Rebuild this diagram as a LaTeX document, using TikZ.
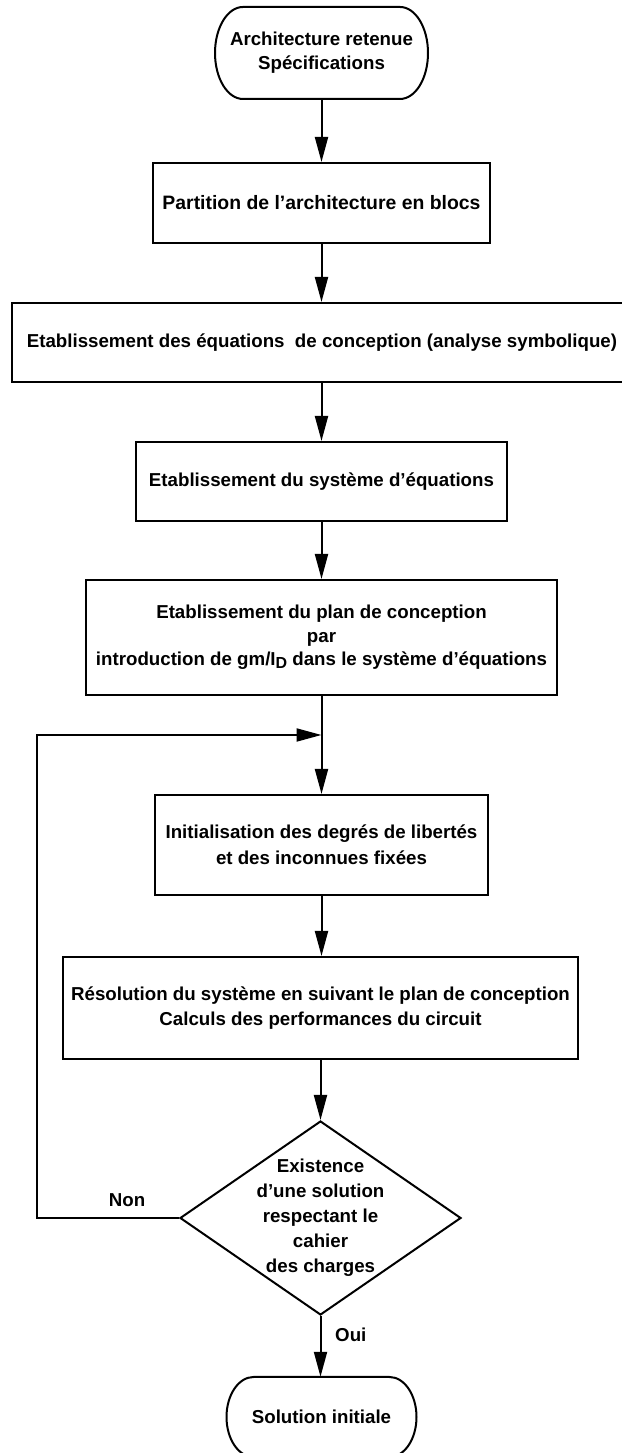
\documentclass[tikz,border=0pt]{standalone}
\usepackage{fontspec}
\setmainfont{Liberation Sans}
\usetikzlibrary{arrows.meta,shapes.geometric}
\begin{document}
\begin{tikzpicture}[x=1pt,y=1pt,
  txt/.style={font=\fontsize{18.7}{24}\selectfont\bfseries, align=center, inner sep=0pt},
  proc/.style={txt, draw, line width=2pt, rectangle},
  term/.style={txt, rectangle},
  ln/.style={line width=2pt},
  arr/.style={line width=2pt, -{Triangle[length=25pt,width=13pt]}}]
\useasboundingbox (0,0) rectangle (621,1453);
\fill[white] (0,0) rectangle (621,1453);

% start terminal
\node[term, minimum width=213pt, minimum height=92pt] (t1) at (321.5,1400) {Architecture retenue\\Spécifications};
\draw[ln] (243,1446) -- (400,1446) arc[start angle=90,end angle=-90,x radius=28,y radius=46]
  -- (243,1354) arc[start angle=270,end angle=90,x radius=28,y radius=46] -- cycle;

\node[proc, minimum width=337pt, minimum height=80pt, font=\fontsize{19.4}{24}\selectfont\bfseries] (b2) at (321.5,1250) {Partition de l’architecture en blocs};
\node[proc, minimum width=620pt, minimum height=79pt] (b3) at (322,1110.5) {Etablissement des équations \ de conception (analyse symbolique)};
\node[proc, minimum width=371pt, minimum height=79pt] (b4) at (321.5,971.5) {Etablissement du système d’équations};
\node[proc, minimum width=471pt, minimum height=115pt, font=\fontsize{18.7}{23.5}\selectfont\bfseries] (b5) at (321.5,815.5)
  {Etablissement du plan de conception\\par\\introduction de gm/I\raisebox{-3pt}{\fontsize{16}{16}\selectfont D} dans le système d’équations};
\node[proc, minimum width=333pt, minimum height=100pt, font=\fontsize{18.7}{26}\selectfont\bfseries] (b6) at (321.5,608)
  {Initialisation des degrés de libertés\\et des inconnues fixées};
\node[proc, minimum width=515pt, minimum height=102pt, font=\fontsize{18.7}{25}\selectfont\bfseries] (b7) at (320.5,445)
  {Résolution du système en suivant le plan de conception\\Calculs des performances du circuit};

% decision
\node[diamond, draw, line width=2pt, minimum width=281pt, minimum height=194pt, inner sep=0pt] (dec) at (320.5,235) {};
\node[txt, font=\fontsize{18.7}{25}\selectfont\bfseries] (dect) at (dec.center) {Existence\\d’une solution\\respectant le\\cahier\\des charges};

% end terminal
\node[term, minimum width=190pt, minimum height=80pt] (t2) at (321.5,36) {Solution initiale};
\draw[ln] (253.5,76) -- (389.5,76) arc[start angle=90,end angle=-90,x radius=27,y radius=40]
  -- (253.5,-4) arc[start angle=270,end angle=90,x radius=27,y radius=40] -- cycle;

\coordinate (lp) at (37,718);
\coordinate (j) at (321.5,718);

\draw[arr] (t1) -- (b2);
\draw[arr] (b2) -- (b3.north -| b2);
\draw[arr] (b3.south -| b2) -- (b4);
\draw[arr] (b4) -- (b5);
\draw[arr] (b5) -- (b6);
\draw[arr] (b6) -- (b7.north -| b6);
\draw[arr] (b7.south -| dec) -- (dec);
\draw[arr] (dec) -- (t2.north -| dec);
\draw[arr] (dec.west) -| (lp) -- (j);

\node[txt] (non) at (127,253) {Non};
\node[txt, anchor=west] (oui) at (335,118) {Oui};
\end{tikzpicture}
\end{document}
